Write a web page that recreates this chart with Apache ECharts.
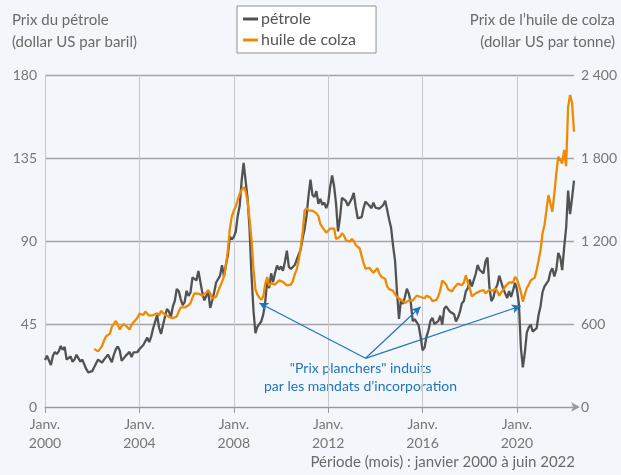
<!DOCTYPE html>
<html><head><meta charset="utf-8">
<script src="https://cdn.jsdelivr.net/npm/echarts@6/dist/echarts.min.js"></script>
<style>html,body{margin:0;padding:0;background:#f3f6fb;}#c{width:621px;height:475px;}</style>
</head><body><div id="c"></div>
<script>
// Categories: monthly, January 2000 to June 2022
const startYear = 2000, endYear = 2022, endMonth = 6;
const months = [];
for (let y = startYear; y <= endYear; y++) {
  for (let m = 1; m <= 12; m++) {
    if (y === endYear && m > endMonth) break;
    months.push(y + '-' + String(m).padStart(2, '0'));
  }
}
// Oil price (US dollar per barrel), by year Jan..Dec
const petrole = [].concat(
  [25.5,27.8,27.5,22.8,27.7,29.8,28.7,30.2,33.1,31.0,32.6,25.7],
  [25.6,27.5,24.5,25.7,28.3,27.9,24.6,25.7,25.6,20.5,18.8,18.7],
  [19.4,20.3,23.7,25.7,25.4,24.1,25.7,26.7,28.4,27.5,24.3,28.3],
  [31.2,32.8,30.6,25.0,25.9,27.7,28.4,29.9,27.1,29.6,28.8,29.8],
  [31.3,30.9,33.6,33.6,37.6,35.2,38.2,42.7,43.2,49.8,43.1,39.6],
  [44.5,45.5,53.1,51.9,48.7,54.4,57.5,64.0,62.9,58.5,55.2,56.9],
  [63.0,60.2,62.1,70.3,69.8,68.6,73.7,73.2,62.0,57.8,58.8,62.5],
  [53.7,57.6,62.1,67.5,67.2,71.1,76.9,70.8,77.2,82.3,92.4,90.9],
  [92.2,95.0,103.6,109.1,122.8,132.3,132.7,113.2,97.2,71.6,52.5,40.0],
  [43.4,43.3,46.5,50.2,57.3,68.6,64.4,72.5,67.7,72.8,76.7,74.5],
  [76.2,73.8,78.8,84.8,76.0,74.8,75.6,77.0,77.8,82.7,85.3,91.5],
  [96.5,103.7,114.6,123.3,115.0,113.8,117.0,110.2,112.8,109.6,110.8,107.9],
  [110.7,119.3,125.5,119.8,110.3,95.2,102.6,113.4,112.9,111.7,109.1,109.5],
  [113.0,116.1,108.5,102.3,102.6,102.9,107.9,111.3,111.6,109.1,107.8,110.8],
  [108.1,108.9,107.5,107.8,109.5,111.8,106.8,101.6,97.1,87.4,79.4,62.3],
  [47.8,58.1,55.9,59.5,64.1,61.5,56.6,46.5,47.6,48.4,44.3,38.0],
  [30.7,32.2,38.2,41.6,46.7,48.3,45.0,45.8,46.6,49.5,44.7,53.3],
  [54.6,54.9,51.6,52.3,50.3,46.4,48.5,51.7,56.2,57.5,62.7,64.4],
  [69.1,65.3,66.0,72.1,77.0,74.4,74.3,72.5,78.9,81.0,64.8,57.4],
  [59.4,64.0,66.1,71.2,71.3,64.2,63.9,59.0,62.8,59.7,63.2,67.3],
  [63.7,55.7,32.0,21.5,29.4,40.3,43.2,44.7,40.9,40.2,42.7,50.0],
  [54.8,62.3,65.4,64.8,68.5,73.2,75.2,70.8,74.5,83.5,81.1,74.2],
  [86.5,97.1,117.3,104.6,113.3,122.7]
);
// Rapeseed oil price (US dollar per tonne), by year Jan..Dec
const colza = [].concat(
  [null,null,null,null,null,null,null,null,null,null,null,null],
  [null,null,null,null,null,null,null,null,null,null,null,null],
  [null,420,412,402,408,440,480,510,520,530,580,600],
  [622,595,560,585,600,605,575,560,595,612,628,645],
  [675,680,665,690,680,660,662,665,672,678,662,695],
  [690,668,660,652,645,642,650,655,690,720,724,720],
  [728,735,752,790,822,826,820,810,805,797,825,846],
  [822,785,775,797,835,870,905,942,1020,1135,1290,1376],
  [1420,1448,1500,1540,1569,1590,1560,1490,1360,1210,1000,850],
  [812,790,775,800,890,940,875,895,905,885,890,915],
  [910,905,895,880,872,885,910,960,995,1060,1150,1256],
  [1420,1436,1420,1430,1420,1412,1400,1380,1325,1300,1280,1260],
  [1270,1290,1300,1292,1215,1225,1231,1255,1240,1207,1200,1195],
  [1215,1200,1171,1160,1147,1135,1040,1000,990,1005,1012,970],
  [980,1003,965,942,935,925,870,852,846,840,832,795],
  [785,775,768,752,758,770,782,770,775,805,808,795],
  [790,786,805,795,790,765,770,775,800,845,915,905],
  [885,850,840,836,860,872,892,885,880,900,952,900],
  [860,800,810,822,830,836,840,846,822,835,846,835],
  [840,858,835,805,830,846,870,862,900,895,900,940],
  [925,880,830,762,815,860,885,915,925,935,990,1060],
  [1135,1256,1316,1320,1532,1520,1412,1544,1689,1809,1822,1761],
  [1858,1740,2170,2255,2200,1990]
);
// Axis ticks
const oilTicks = [0, 45, 90, 135, 180];
const colzaTicks = [0, 600, 1200, 1800, 2400];
const labelYears = [2000, 2004, 2008, 2012, 2016, 2020];
// Annotation arrows: from [month, rapeseed value] to [month, rapeseed value]
const arrowFrom = ['2013-08', 352];
const arrowTargets = [['2009-02', 752], ['2015-12', 725], ['2020-03', 730]];

const isLabelMonth = (i) => {
  const c = months[i];
  return c.endsWith('-01') && labelYears.includes(+c.slice(0, 4));
};
const FONT = 'Lato, "Noto Sans", sans-serif';
const gray = '#767676';

const chart = echarts.init(document.getElementById('c'), null, {renderer: 'canvas'});
chart.setOption({
  backgroundColor: '#f3f6fb',
  animation: false,
  textStyle: {fontFamily: FONT},
  grid: {left: 45, right: 47, top: 75, bottom: 68, containLabel: false},
  legend: {
    left: 237, top: 6, orient: 'vertical',
    backgroundColor: '#ffffff', borderColor: '#8f8f8f', borderWidth: 1, borderRadius: 0,
    padding: [5, 20, 5, 6], itemGap: 5, itemWidth: 15, itemHeight: 3,
    icon: 'rect',
    textStyle: {fontSize: 16, color: '#555', fontFamily: FONT, padding: [0, 0, 0, -2]},
    data: ['pétrole', 'huile de colza']
  },
  xAxis: {
    type: 'category', data: months, boundaryGap: false,
    axisLine: {show: true, lineStyle: {color: '#9a9a9a', width: 1.2}, symbol: ['none', 'arrow'], symbolSize: [7, 9], symbolOffset: [0, 6]},
    axisTick: {show: true, interval: (i) => isLabelMonth(i), length: 6, lineStyle: {color: '#9a9a9a'}},
    axisLabel: {
      interval: (i) => isLabelMonth(i),
      formatter: (v) => 'Janv.\n' + v.slice(0, 4),
      color: gray, fontSize: 14, lineHeight: 19, margin: 8, fontFamily: FONT
    },
    splitLine: {show: true, interval: (i) => isLabelMonth(i), lineStyle: {color: '#c6c8cc', width: 1}}
  },
  yAxis: [
    {
      type: 'value', min: oilTicks[0], max: oilTicks[oilTicks.length - 1], interval: oilTicks[1] - oilTicks[0],
      axisLine: {show: false}, axisTick: {show: false},
      axisLabel: {color: gray, fontSize: 14, margin: 8, fontFamily: FONT},
      splitLine: {show: true, lineStyle: {color: '#a4a4a4', width: 1.3}}
    },
    {
      type: 'value', min: colzaTicks[0], max: colzaTicks[colzaTicks.length - 1], interval: colzaTicks[1] - colzaTicks[0],
      position: 'right',
      axisLine: {show: false}, axisTick: {show: false},
      axisLabel: {color: gray, fontSize: 14, margin: 7, fontFamily: FONT,
        formatter: (v) => String(v).replace(/\B(?=(\d{3})+(?!\d))/g, ' ')},
      splitLine: {show: false}
    }
  ],
  series: [
    {
      name: 'pétrole', type: 'line', data: petrole, yAxisIndex: 0,
      showSymbol: false, symbol: 'none', color: '#525252',
      lineStyle: {color: '#525252', width: 2.3}, z: 3
    },
    {
      name: 'huile de colza', type: 'line', data: colza, yAxisIndex: 1,
      showSymbol: false, symbol: 'none', color: '#f08a00', connectNulls: false,
      lineStyle: {color: '#f08a00', width: 2.3}, z: 4,
      markLine: {
        silent: true, animation: false,
        symbol: ['none', 'arrow'], symbolSize: [7, 9],
        label: {show: false},
        lineStyle: {color: '#1f74bd', width: 1.2, type: 'solid'},
        data: arrowTargets.map(t => [{coord: arrowFrom}, {coord: t}])
      }
    }
  ],
  graphic: [
    {type: 'text', left: 12, top: 9, style: {text: 'Prix du pétrole\n(dollar US par baril)', fill: '#6a6a6a', font: '15px ' + FONT, lineHeight: 22}},
    {type: 'text', right: 6, top: 9, style: {text: 'Prix de l\u2019huile de colza\n(dollar US par tonne)', fill: '#6a6a6a', font: '15px ' + FONT, lineHeight: 22, align: 'right', textAlign: 'right'}},
    {type: 'text', right: 46, top: 455, style: {text: 'Période (mois) : janvier 2000 à juin 2022', fill: '#6a6a6a', font: '15px ' + FONT}},
    {type: 'text', left: 264, top: 359, style: {text: '"Prix planchers" induits\npar les mandats d\u2019incorporation', fill: '#1f74bd', font: '14px ' + FONT, lineHeight: 18, align: 'center', textAlign: 'center'}}
  ]
});
</script></body></html>
